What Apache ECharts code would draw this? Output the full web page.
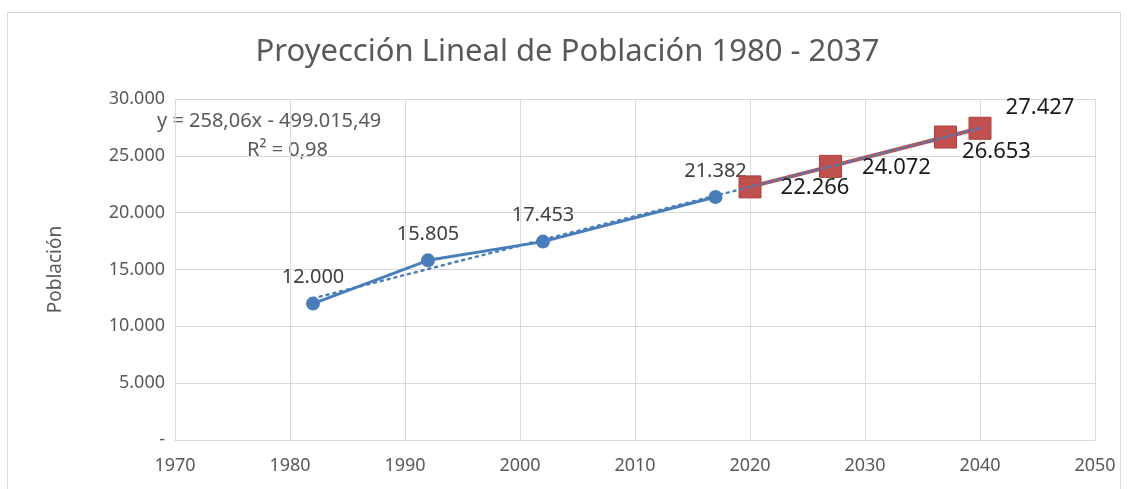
<!DOCTYPE html>
<html>
<head>
<meta charset="utf-8">
<script src="https://cdn.jsdelivr.net/npm/echarts@6/dist/echarts.min.js"></script>
<style>
html, body { margin: 0; padding: 0; background: #fff; }
#chart { width: 1135px; height: 489px; }
</style>
</head>
<body>
<div id="chart"></div>
<script>
// datos historicos (censos)
var histYears = [1982, 1992, 2002, 2017];
var histPop = [12000, 15805, 17453, 21382];
// proyeccion
var projYears = [2020, 2027, 2037, 2040];
var projPop = [22266, 24072, 26653, 27427];
// linea de tendencia lineal (extremos)
var trendYears = [1982, 2040];
var trendPop = [12459, 27427];
var yTicks = [0, 5000, 10000, 15000, 20000, 25000, 30000];

var projLabelOffsets = [[65, 1], [66, 1], [51, 15], [60, -21]];

function fmt(v) {
  if (v === 0) return '-';
  return String(v).replace(/\B(?=(\d{3})+(?!\d))/g, '.');
}

var chart = echarts.init(document.getElementById('chart'));
var font = "'Noto Sans', sans-serif";

var option = {
  backgroundColor: '#fff',
  animation: false,
  title: {
    text: 'Proyección Lineal de Población 1980 - 2037',
    left: 'center',
    top: 32,
    textStyle: { fontFamily: font, fontSize: 31, fontWeight: 'normal', color: '#595959' }
  },
  graphic: [
    { type: 'rect', shape: { x: 7.5, y: 12.5, width: 1113, height: 500 },
      style: { fill: null, stroke: '#d9d9d9', lineWidth: 1 }, silent: true },
    { type: 'text', left: 157, top: 111,
      style: { text: 'y = 258,06x - 499.015,49', font: '20px ' + font, fill: '#595959' } },
    { type: 'text', left: 247, top: 140,
      style: { text: 'R² = 0,98', font: '20px ' + font, fill: '#595959' } }
  ],
  grid: { left: 175, right: 40, top: 99, bottom: 49 },
  xAxis: {
    type: 'value', min: 1970, max: 2050, interval: 10,
    axisLine: { show: true, lineStyle: { color: '#d9d9d9', width: 1 } },
    axisTick: { show: false },
    axisLabel: { margin: 17, fontFamily: font, fontSize: 18, color: '#595959',
      formatter: function (v) { return String(v); } },
    splitLine: { show: true, lineStyle: { color: '#d9d9d9' } }
  },
  yAxis: {
    type: 'value', min: yTicks[0], max: yTicks[yTicks.length - 1], interval: 5000,
    name: 'Población', nameLocation: 'middle', nameGap: 110, nameRotate: 90,
    nameTextStyle: { fontFamily: font, fontSize: 19, color: '#595959' },
    axisLine: { show: false }, axisTick: { show: false },
    axisLabel: { margin: 10, fontFamily: font, fontSize: 18, color: '#595959', formatter: fmt },
    splitLine: { lineStyle: { color: '#d9d9d9' } }
  },
  series: [
    {
      name: 'Censo', type: 'line', z: 2,
      data: histYears.map(function (y, i) { return [y, histPop[i]]; }),
      symbol: 'circle', symbolSize: 14,
      lineStyle: { color: '#4a7ebb', width: 3 },
      itemStyle: { color: '#4a7ebb' },
      label: { show: true, position: 'top', distance: 9, formatter: function (p) { return fmt(p.value[1]); },
        fontFamily: font, fontSize: 20, color: '#404040' }
    },
    {
      name: 'Proyección', type: 'line', z: 3,
      data: projYears.map(function (y, i) {
        return { value: [y, projPop[i]], label: { offset: projLabelOffsets[i] } };
      }),
      symbol: 'rect', symbolSize: 22,
      lineStyle: { color: '#c0504d', width: 4 },
      itemStyle: { color: '#c0504d', borderColor: '#b0403d', borderWidth: 1 },
      label: { show: true, position: 'inside', formatter: function (p) { return fmt(p.value[1]); },
        fontFamily: font, fontSize: 22, color: '#1a1a1a' }
    },
    {
      name: 'Tendencia', type: 'line', z: 4,
      data: trendYears.map(function (y, i) { return [y, trendPop[i]]; }),
      symbol: 'none', silent: true,
      lineStyle: { color: '#4a7ebb', width: 2.5, type: [2, 5], cap: 'round' }
    }
  ]
};
chart.setOption(option);
</script>
</body>
</html>
